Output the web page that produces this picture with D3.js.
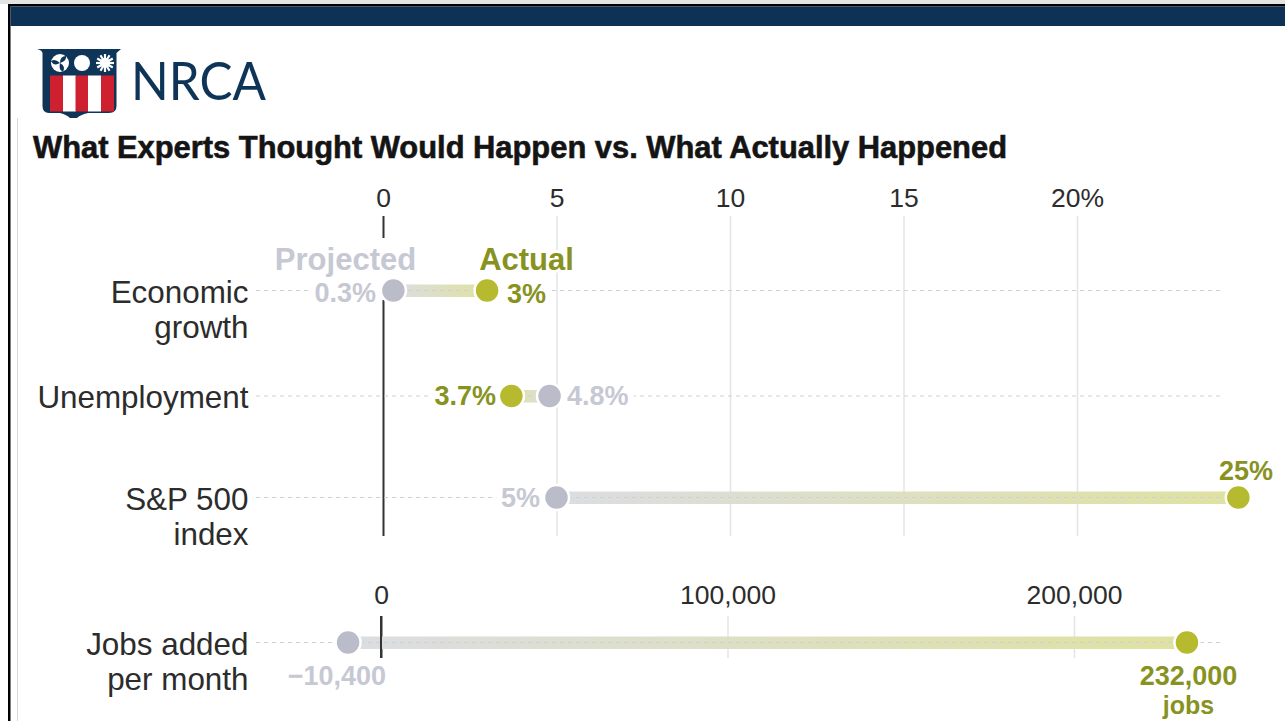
<!DOCTYPE html>
<html>
<head>
<meta charset="utf-8">
<title>What Experts Thought Would Happen vs. What Actually Happened</title>
<script src="https://cdn.jsdelivr.net/npm/d3@7"></script>
<style>
  html, body { margin: 0; padding: 0; background: #fff; overflow: hidden; }
  svg { display: block; }
  text { font-family: "Liberation Sans", sans-serif; }
  .tick-label { font-size: 26.5px; fill: #2c2c2c; }
  .row-label { font-size: 31.4px; fill: #2c2c2c; text-anchor: end; }
  .value { font-size: 27px; font-weight: bold; paint-order: stroke; stroke: #fff; stroke-width: 12px; stroke-linejoin: round; }
  .legend { font-size: 31px; font-weight: bold; paint-order: stroke; stroke: #fff; stroke-width: 6px; stroke-linejoin: round; }
</style>
</head>
<body>
<svg id="chart" width="1285" height="721"></svg>
<script>
// values
var pctRows = ["Economic growth", "Unemployment", "S&P 500 index"];
var pctProjected = [0.3, 4.8, 5.0];
var pctActual = [3.0, 3.7, 24.65];
var pctProjectedLabels = ["0.3%", "4.8%", "5%"];
var pctActualLabels = ["3%", "3.7%", "25%"];
var pctTicks = [0, 5, 10, 15, 20];
var pctTickLabels = ["0", "5", "10", "15", "20%"];

var jobsRows = ["Jobs added per month"];
var jobsProjected = [-9500];
var jobsActual = [232600];
var jobsProjectedLabels = ["\u221210,400"];
var jobsActualLabels = ["232,000"];
var jobsTicks = [0, 100000, 200000];
var jobsTickLabels = ["0", "100,000", "200,000"];

var rowLines = {
  "Economic growth": ["Economic", "growth"],
  "Unemployment": ["Unemployment"],
  "S&P 500 index": ["S&P 500", "index"],
  "Jobs added per month": ["Jobs added", "per month"]
};

var GRAY = "#babcc9", GRAY_TEXT = "#c6c8d3", OLIVE = "#b6ba2e", OLIVE_TEXT = "#87921f";

var svg = d3.select("#chart");
var defs = svg.append("defs");

var xPct = d3.scaleLinear().domain([0, 20]).range([383, 1077]);
var xJobs = d3.scaleLinear().domain([0, 200000]).range([381, 1074]);
var yPct = d3.scaleOrdinal().domain(pctRows).range([290.5, 396, 497.5]);
var yJobs = d3.scaleOrdinal().domain(jobsRows).range([642.5]);

drawFrame();
drawLogo();

svg.append("text")
  .attr("x", 33).attr("y", 158)
  .attr("textLength", 974).attr("lengthAdjust", "spacingAndGlyphs")
  .style("font-size", "31px").style("font-weight", "bold").style("fill", "#141414")
  .style("stroke", "#141414").style("stroke-width", "0.6px")
  .text("What Experts Thought Would Happen vs. What Actually Happened");

// marks, then labels, then dots so label halos never bite the dots
var panelLayer = svg.append("g");
var labelLayer = svg.append("g");
var dotLayer = svg.append("g");

drawPanel("pct", pctRows, pctProjected, pctActual, xPct, yPct, pctTicks, pctTickLabels, 207, 216, 536);
drawPanel("jobs", jobsRows, jobsProjected, jobsActual, xJobs, yJobs, jobsTicks, jobsTickLabels, 604, 616, 658);

// the zero line breaks around the legend
labelLayer.append("rect").attr("x", 378).attr("y", 238).attr("width", 10).attr("height", 62).attr("fill", "#fff");

// legend
labelLayer.append("text").attr("class", "legend").attr("x", 345.5).attr("y", 270)
  .attr("text-anchor", "middle").style("fill", GRAY_TEXT).text("Projected");
labelLayer.append("text").attr("class", "legend").attr("x", 526.5).attr("y", 270)
  .attr("text-anchor", "middle").style("fill", OLIVE_TEXT).text("Actual");

// direct value labels
valueLabel(376, 302, "end", GRAY_TEXT, pctProjectedLabels[0]);
valueLabel(507, 302.5, "start", OLIVE_TEXT, pctActualLabels[0]);
valueLabel(496, 405, "end", OLIVE_TEXT, pctActualLabels[1]);
valueLabel(567, 405, "start", GRAY_TEXT, pctProjectedLabels[1]);
valueLabel(540, 507, "end", GRAY_TEXT, pctProjectedLabels[2]);
valueLabel(1246, 480, "middle", OLIVE_TEXT, pctActualLabels[2]);
valueLabel(386, 685, "end", GRAY_TEXT, jobsProjectedLabels[0]);
valueLabel(1188.5, 685, "middle", OLIVE_TEXT, jobsActualLabels[0]);
valueLabel(1188.5, 714, "middle", OLIVE_TEXT, "jobs")
  .style("font-size", "25px").style("stroke", "none");

function valueLabel(x, y, anchor, color, label) {
  return labelLayer.append("text").attr("class", "value")
    .attr("x", x).attr("y", y)
    .attr("text-anchor", anchor)
    .style("fill", color)
    .text(label);
}

function drawPanel(id, rows, projected, actual, x, y, ticks, tickLabels, labelY, gridTop, gridBottom) {
  var g = panelLayer.append("g").attr("class", "panel-" + id);

  // axis on top, tick lines stretched down as the grid
  var axis = d3.axisTop(x)
    .tickValues(ticks)
    .tickSize(0)
    .tickPadding(0)
    .tickFormat(function (d, i) { return tickLabels[i]; });
  var ag = g.append("g").attr("transform", "translate(0," + labelY + ")").call(axis);
  ag.select(".domain").remove();
  ag.selectAll("text").attr("class", "tick-label").attr("fill", null).style("font-family", null).style("font-size", null);
  ag.selectAll(".tick").append("line")
    .attr("y1", gridTop - labelY)
    .attr("y2", gridBottom - labelY)
    .attr("stroke", function (d) { return d === 0 ? "#333" : "#e3e4e6"; })
    .attr("stroke-width", function (d) { return d === 0 ? 2 : 1.5; });

  // row labels
  rows.forEach(function (r) {
    rowLines[r].forEach(function (line, i) {
      g.append("text").attr("class", "row-label")
        .attr("x", 248.5)
        .attr("y", y(r) + 12 + i * 35.5)
        .text(line);
    });
  });

  // gradient for each connector, gray end at projected and olive end at actual
  rows.forEach(function (r, i) {
    var grad = defs.append("linearGradient")
      .attr("id", "grad-" + id + "-" + i)
      .attr("gradientUnits", "userSpaceOnUse")
      .attr("x1", x(projected[i])).attr("x2", x(actual[i]))
      .attr("y1", 0).attr("y2", 0);
    grad.append("stop").attr("offset", "0%").attr("stop-color", "#dcdde2");
    grad.append("stop").attr("offset", "100%").attr("stop-color", "#dfe2a0");
  });

  g.selectAll("rect.connector").data(rows).enter().append("rect")
    .attr("class", "connector")
    .attr("x", function (r, i) { return Math.min(x(projected[i]), x(actual[i])); })
    .attr("width", function (r, i) { return Math.abs(x(actual[i]) - x(projected[i])); })
    .attr("y", function (r) { return y(r) - 6; })
    .attr("height", 12.5)
    .attr("fill", function (r, i) { return "url(#grad-" + id + "-" + i + ")"; });

  // dashed row guides
  g.selectAll("line.guide").data(rows).enter().append("line")
    .attr("class", "guide")
    .attr("x1", 256).attr("x2", 1222)
    .attr("y1", function (r) { return y(r); })
    .attr("y2", function (r) { return y(r); })
    .attr("stroke", "#cfd0d3").attr("stroke-width", 1).attr("stroke-dasharray", "4,4");

  // zero line runs over the connector in the jobs panel
  if (id === "jobs") {
    g.append("line")
      .attr("x1", x(0)).attr("x2", x(0))
      .attr("y1", gridTop).attr("y2", gridBottom)
      .attr("stroke", "#333").attr("stroke-width", 2);
  }

  [[projected, GRAY], [actual, OLIVE]].forEach(function (s) {
    dotLayer.selectAll(null).data(rows).enter().append("circle")
      .attr("cx", function (r, i) { return x(s[0][i]); })
      .attr("cy", function (r) { return y(r); })
      .attr("r", 12.5)
      .attr("fill", s[1])
      .attr("stroke", "#fff").attr("stroke-width", 2.5);
  });
}

function drawFrame() {
  svg.append("rect").attr("x", 0).attr("y", 0).attr("width", 1285).attr("height", 4).attr("fill", "#e4e4e4");
  svg.append("rect").attr("x", 8).attr("y", 4).attr("width", 1277).attr("height", 2.5).attr("fill", "#000");
  svg.append("rect").attr("x", 8).attr("y", 4).attr("width", 2.5).attr("height", 717).attr("fill", "#000");
  svg.append("rect").attr("x", 10.5).attr("y", 6.5).attr("width", 1275).attr("height", 19.5).attr("fill", "#0e3255");
  svg.append("rect").attr("x", 17).attr("y", 118).attr("width", 1).attr("height", 603).attr("fill", "#d8d8d8");
}

function drawLogo() {
  var logo = svg.append("g").attr("class", "logo");
  var navy = "#0e3557", red = "#cf2030";
  var outline = "M37,49 H121 L116.5,53 V106 Q116.5,113 109,113 H88 Q80,115 77,118 H70 Q67,115 60,113 H49 Q42.5,113 42.5,106 V53 Q42,50 37,49 Z";
  logo.append("path").attr("d", outline).attr("fill", navy);

  var stripes = [[50, red], [63, "#fff"], [75.5, red], [88, "#fff"], [101, red]];
  stripes.forEach(function (s) {
    logo.append("rect").attr("x", s[0]).attr("y", 75.5).attr("width", 13).attr("height", 36).attr("fill", s[1]);
  });

  // triskele, sun, snowflake
  logo.append("circle").attr("cx", 60).attr("cy", 63).attr("r", 9).attr("fill", "#fff");
  [0, 120, 240].forEach(function (a) {
    logo.append("path")
      .attr("d", "M60,63 Q67,61 66,56 Q60,56 60,63 Z")
      .attr("transform", "rotate(" + a + " 60 63)")
      .attr("fill", navy);
  });
  logo.append("circle").attr("cx", 82).attr("cy", 63).attr("r", 8).attr("fill", "#fff");
  d3.range(0, 180, 30).forEach(function (a) {
    logo.append("line")
      .attr("x1", 105).attr("x2", 105).attr("y1", 54).attr("y2", 72)
      .attr("transform", "rotate(" + a + " 105 63)")
      .attr("stroke", "#fff").attr("stroke-width", 2.2);
  });
  logo.append("circle").attr("cx", 105).attr("cy", 63).attr("r", 5).attr("fill", "#fff");

  logo.append("text")
    .attr("x", 131).attr("y", 100)
    .attr("textLength", 135).attr("lengthAdjust", "spacingAndGlyphs")
    .style("font-family", "Lato, sans-serif").style("font-size", "53px").style("fill", navy)
    .text("NRCA");
}
</script>
</body>
</html>
